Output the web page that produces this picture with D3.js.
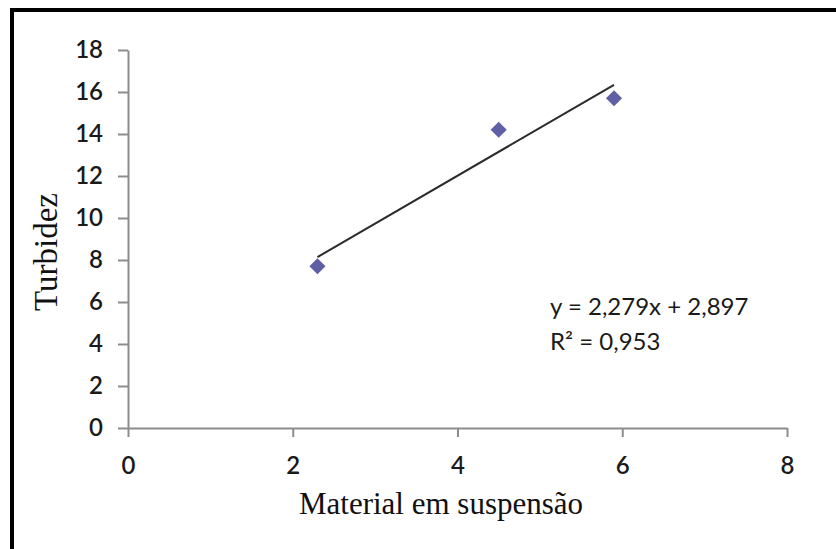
<!DOCTYPE html>
<html>
<head>
<meta charset="utf-8">
<script src="https://cdn.jsdelivr.net/npm/d3@7"></script>
<style>
  body { margin: 0; background: #fff; }
  svg { display: block; }
</style>
</head>
<body>
<div id="chart"></div>
<script>
// data
var xValues = [2.3, 4.5, 5.9];
var yValues = [7.7, 14.2, 15.7];
var xTicks = [0, 2, 4, 6, 8];
var yTicks = [0, 2, 4, 6, 8, 10, 12, 14, 16, 18];
var slope = 2.279, intercept = 2.897;
var eqLines = ["y = 2,279x + 2,897", "R² = 0,953"];

var width = 836, height = 549;

var svg = d3.select("#chart").append("svg")
    .attr("width", width)
    .attr("height", height);

// frame (only top and left edges show in the picture)
svg.append("path")
    .attr("d", "M12,549 L12,10 L836,10")
    .attr("fill", "none")
    .attr("stroke", "#000")
    .attr("stroke-width", 4);

var x = d3.scaleLinear().domain([0, 8]).range([128, 787]);
var y = d3.scaleLinear().domain([0, 18]).range([428, 50]);

var xAxis = svg.append("g")
    .attr("transform", "translate(0," + y(0) + ")")
    .call(d3.axisBottom(x).tickValues(xTicks).tickSize(9).tickSizeOuter(0).tickPadding(20));

var yAxis = svg.append("g")
    .attr("transform", "translate(" + x(0) + ",0)")
    .call(d3.axisLeft(y).tickValues(yTicks).tickSize(10).tickSizeOuter(0).tickPadding(15));

[xAxis, yAxis].forEach(function(a) {
    a.select(".domain").attr("stroke", "#8c8c8c").attr("stroke-width", 2);
    a.selectAll(".tick line").attr("stroke", "#8c8c8c").attr("stroke-width", 2);
    a.selectAll(".tick text")
        .attr("fill", "#1a1a1a")
        .style("font-family", "Lato, 'Open Sans', sans-serif")
        .style("font-weight", "600")
        .style("font-size", "24px");
});

// trendline across the data range
var xExt = d3.extent(xValues);
svg.append("line")
    .attr("x1", x(xExt[0])).attr("y1", y(slope * xExt[0] + intercept))
    .attr("x2", x(xExt[1])).attr("y2", y(slope * xExt[1] + intercept))
    .attr("stroke", "#2b2b2b")
    .attr("stroke-width", 2);

// diamond markers
var diamond = d3.symbol().type(d3.symbolSquare).size(130);
svg.selectAll(".pt")
    .data(xValues.map(function(v, i) { return {x: v, y: yValues[i]}; }))
    .enter().append("path")
    .attr("class", "pt")
    .attr("d", diamond)
    .attr("transform", function(d) { return "translate(" + x(d.x) + "," + y(d.y) + ") rotate(45)"; })
    .attr("fill", "#5f5fa6");

// equation
svg.selectAll(".eq")
    .data(eqLines)
    .enter().append("text")
    .attr("class", "eq")
    .attr("x", 550)
    .attr("y", function(d, i) { return 315 + i * 35; })
    .attr("fill", "#1a1a1a")
    .style("font-family", "Lato, 'Open Sans', sans-serif")
    .style("font-size", "24px")
    .text(function(d) { return d; });

// axis titles
svg.append("text")
    .attr("x", 441)
    .attr("y", 514)
    .attr("text-anchor", "middle")
    .style("font-family", "'Liberation Serif', 'DejaVu Serif', serif")
    .style("font-size", "31px")
    .attr("fill", "#111")
    .text("Material em suspensão");

svg.append("text")
    .attr("transform", "translate(57,252) rotate(-90)")
    .attr("text-anchor", "middle")
    .style("font-family", "'Liberation Serif', 'DejaVu Serif', serif")
    .style("font-size", "33px")
    .attr("fill", "#111")
    .text("Turbidez");
</script>
</body>
</html>
